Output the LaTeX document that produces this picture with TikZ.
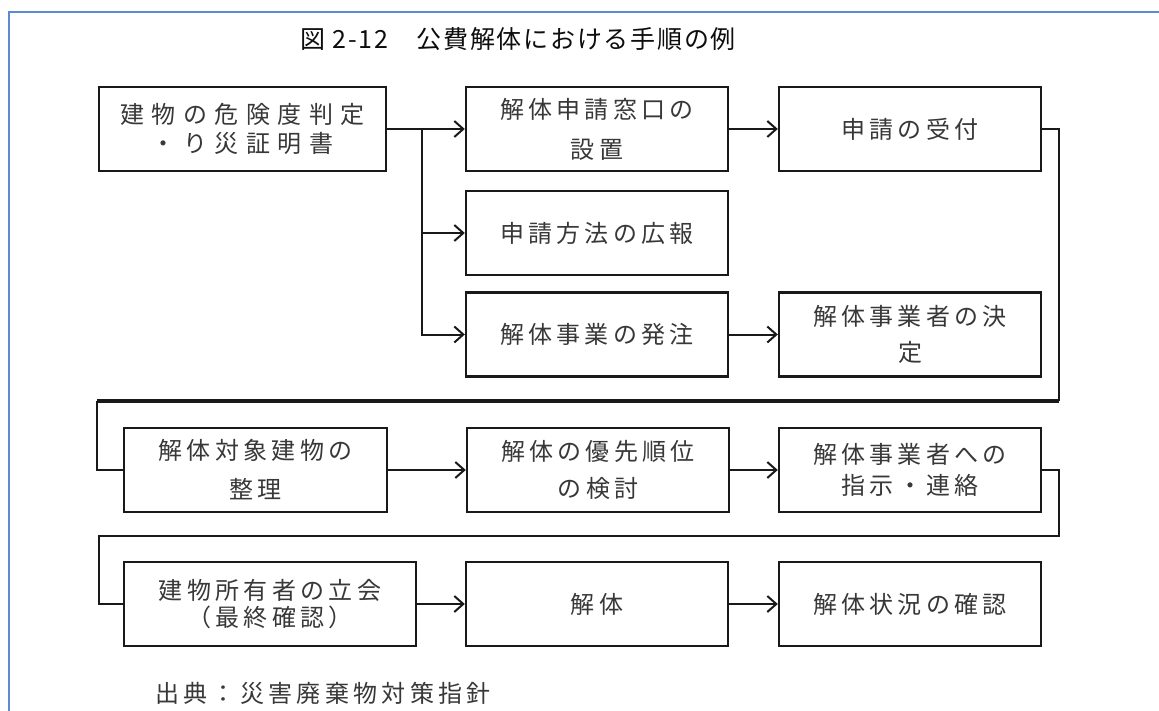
\documentclass[tikz,border=0pt]{standalone}
\usepackage{fontspec}
\usetikzlibrary{arrows.meta}
\newfontfamily\cjk[LetterSpace=18]{Noto Sans CJK JP}
\newfontfamily\cjkwide[LetterSpace=31]{Noto Sans CJK JP}
\newfontfamily\cjktitle[LetterSpace=7]{Noto Sans CJK JP}
\definecolor{framblue}{HTML}{5B8BD0}
\definecolor{txtgray}{HTML}{383838}
\tikzset{
  stepbox/.style={draw=black!90, line width=2.4pt, rectangle, minimum width=262pt, minimum height=84pt,
    inner sep=0pt, align=center, text=txtgray, font=\cjk\fontsize{24}{29}\selectfont},
  conn/.style={draw=black!90, line width=2pt},
  arr/.style={conn, -{Straight Barb[length=9pt,width=16pt,line width=2pt]}},
}
\begin{document}
\begin{tikzpicture}[x=1pt,y=-1pt]
\useasboundingbox (0,0) rectangle (1159,711);
\fill[white] (0,0) rectangle (1159,711);
% frame
\draw[framblue, line width=2pt] (9,711) -- (9,12) -- (1159,12);
% title
\node[anchor=west, inner sep=0pt, font=\cjktitle\fontsize{25}{29}\selectfont, text=black!95] (title) at (300,39) {図 2-12　公費解体における手順の例};
% boxes
\node[stepbox, minimum width=287pt, font=\cjkwide\fontsize{24}{29}\selectfont] (A) at (242.5,129) {建物の危険度判定\\[0pt]・り災証明書};
\node[stepbox] (B) at (597,129) {解体申請窓口の\\[11pt]設置};
\node[stepbox] (C) at (910,129) {申請の受付};
\node[stepbox] (D) at (597,233) {申請方法の広報};
\node[stepbox] (E) at (597,334.5) {解体事業の発注};
\node[stepbox] (F) at (910,334.5) {解体事業者の決\\[7pt]定};
\node[stepbox, minimum width=263pt] (G) at (255.5,470) {解体対象建物の\\[10pt]整理};
\node[stepbox] (H) at (598,470) {解体の優先順位\\[8pt]の検討};
\node[stepbox] (I) at (910,470) {解体事業者への\\[2pt]指示・連絡};
\node[stepbox, minimum width=292pt] (J) at (270,604) {建物所有者の立会\\[-2pt]（最終確認）};
\node[stepbox] (K) at (597,604) {解体};
\node[stepbox] (L) at (910,604) {解体状況の確認};
% caption
\node[anchor=west, inner sep=0pt, text=txtgray, font=\cjk\fontsize{24}{29}\selectfont] (cap) at (155,693) {出典：災害廃棄物対策指針};
% connectors
\coordinate (br) at (422,129);
\draw[arr] (A.east) -- (B.west);
\draw[arr] (br) |- (E.west);
\draw[arr] (br |- D.west) -- (D.west);
\draw[arr] (B.east) -- (C.west);
\draw[arr] (E.east) -- (F.west);
\coordinate (c1) at (1059,129);
\coordinate (c2) at (1059,401);
\coordinate (c3) at (97,401);
\draw[conn] (C.east) -- (c1) -- (c2);
\draw[conn, line width=3.6pt] (c2) -- (c3);
\draw[conn] (c3) |- (G.west);
\draw[arr] (G.east) -- (H.west);
\draw[arr] (H.east) -- (I.west);
\coordinate (d1) at (1059,470);
\coordinate (d2) at (1059,536);
\coordinate (d3) at (99,536);
\draw[conn] (I.east) -- (d1) -- (d2) -- (d3) |- (J.west);
\draw[arr] (J.east) -- (K.west);
\draw[arr] (K.east) -- (L.west);
\end{tikzpicture}
\end{document}
